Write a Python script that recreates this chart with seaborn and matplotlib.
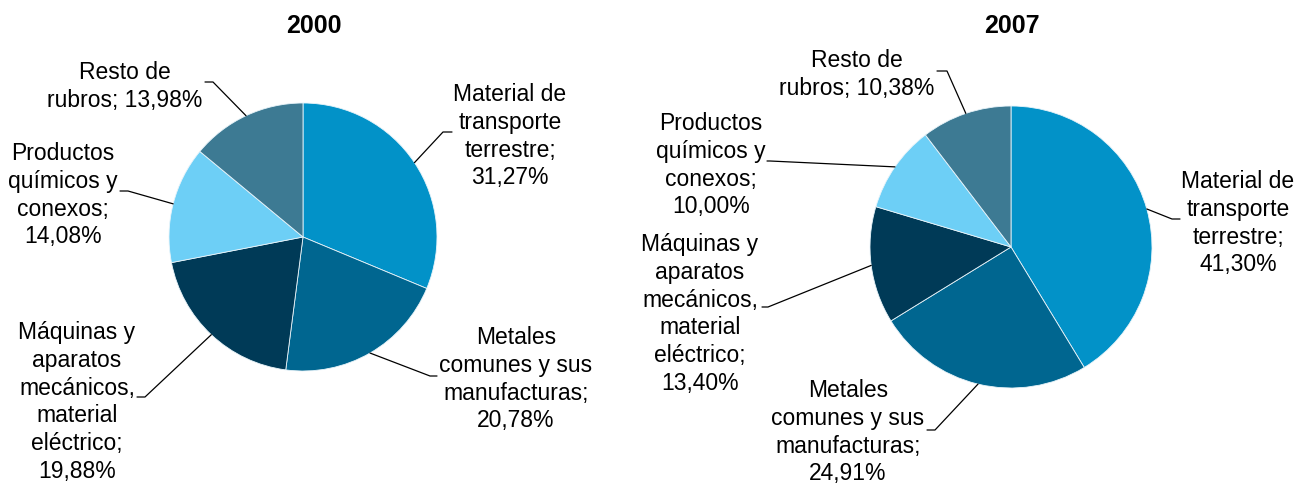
import numpy as np
import matplotlib
matplotlib.use("Agg")
import matplotlib.pyplot as plt
import seaborn as sns

# ---------------- data ----------------
years = ["2000", "2007"]
categories = [
    "Material de transporte terrestre",
    "Metales comunes y sus manufacturas",
    "Máquinas y aparatos mecánicos, material eléctrico",
    "Productos químicos y conexos",
    "Resto de rubros",
]
values_2000 = [31.27, 20.78, 19.88, 14.08, 13.98]
values_2007 = [41.30, 24.91, 13.40, 10.00, 10.38]

# label wrapping as in the original ({v} = value)
label_templates = [
    ["Material de", "transporte", "terrestre;", "{v}"],
    ["Metales", "comunes y sus", "manufacturas;", "{v}"],
    ["Máquinas y", "aparatos", "mecánicos,", "material", "eléctrico;", "{v}"],
    ["Productos", "químicos y", "conexos;", "{v}"],
    ["Resto de", "rubros; {v}"],
]
colors = ["#0292C8", "#006690", "#003A57", "#6DCFF6", "#3D7A93"]

# ---------------- layout (pixels, y from top) ----------------
W, H = 1298, 485
layouts = [
    dict(center=(303, 238), radius=134, title=(314, 33),
         label_x=[510, 516, 77, 63, 125],
         label_y0=[101, 344, 339, 160, 79],
         elbow=[((443, 133), (452, 133)), ((430, 377), (437, 377)),
                ((145, 398), (137, 398)), ((128, 192), (120, 192)),
                ((213, 83), (205, 83))]),
    dict(center=(1011, 248), radius=141, title=(1012, 33),
         label_x=[1238, 848, 700, 711, 857],
         label_y0=[188, 397, 251, 130, 67],
         elbow=[((1172, 220), (1180, 220)), ((935, 431), (927, 431)),
                ((768, 308), (762, 308)), ((770, 162), (767, 162)),
                ((947, 72), (937, 72))]),
]
pitch = 27.8

sns.set_theme(style="white")
plt.rcParams["font.family"] = ["Liberation Sans", "DejaVu Sans"]
palette = sns.color_palette(colors)

fig = plt.figure(figsize=(W / 100, H / 100), dpi=100)
ax = fig.add_axes([0, 0, 1, 1])

for year, vals, lay in zip(years, [values_2000, values_2007], layouts):
    cx, cy = lay["center"]
    r = lay["radius"]
    ax.pie(vals, center=(cx, H - cy), radius=r, startangle=90,
           counterclock=False, colors=palette,
           wedgeprops=dict(edgecolor="#e8f4fa", linewidth=0.6))
    tx, ty = lay["title"]
    ax.text(tx, H - ty, year, ha="center", va="baseline",
            fontsize=18, fontweight="bold", color="black")
    total = float(np.sum(vals))
    cum = 0.0
    for i, v in enumerate(vals):
        mid = 90 - 360 * (cum + v / 2) / total
        cum += v
        sx = cx + r * np.cos(np.radians(mid))
        sy = (H - cy) + r * np.sin(np.radians(mid))
        (ex, ey), (hx, hy) = lay["elbow"][i]
        ax.plot([sx, ex, hx], [sy, H - ey, H - hy], color="black", lw=0.9)
        vstr = f"{v:.2f}".replace(".", ",") + "%"
        for j, line in enumerate(label_templates[i]):
            ax.text(lay["label_x"][i], H - (lay["label_y0"][i] + j * pitch),
                    line.format(v=vstr), ha="center", va="baseline",
                    fontsize=16.5, color="black")

ax.set_xlim(0, W)
ax.set_ylim(0, H)
ax.set_aspect("auto")
ax.axis("off")
fig.savefig("out.png", dpi=100, facecolor="white")
